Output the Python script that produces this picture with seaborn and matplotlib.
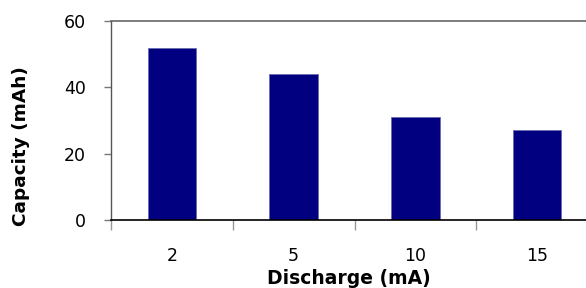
import matplotlib
matplotlib.use("Agg")
import matplotlib.pyplot as plt
import seaborn as sns
import pandas as pd

discharge = ["2", "5", "10", "15"]
capacity = [52, 44, 31, 27]

sns.set_theme(style="white")
plt.rcParams['font.family'] = ['DejaVu Sans']
plt.rcParams['text.color'] = 'black'

df = pd.DataFrame({"Discharge": discharge, "Capacity": capacity})

fig = plt.figure(figsize=(5.86, 2.88), dpi=100)
ax = fig.add_axes([111/586, 1 - 220/288, 487/586, 199/288])
sns.barplot(data=df, x="Discharge", y="Capacity", order=discharge, color="#000080",
            saturation=1, width=0.4, ax=ax, edgecolor="#6a6ab0", linewidth=0.6)

ax.set_xlim(-0.5, 3.5)
ax.set_ylim(0, 60)
ax.set_yticks([0, 20, 40, 60])
ax.set_yticklabels(["0", "20", "40", "60"], fontsize=12.5, family="DejaVu Sans")
ax.set_xticks([-0.5, 0.5, 1.5, 2.5])
ax.set_xticklabels([])
for i, lab in enumerate(discharge):
    ax.text(i, 0, lab, ha="center", va="center", fontsize=12.5, color="black",
            family="DejaVu Sans",
            transform=ax.get_xaxis_transform() + matplotlib.transforms.ScaledTranslation(0, -(256 - 220) / 100, fig.dpi_scale_trans))
ax.tick_params(axis="y", length=5, width=1, color="#777777", left=True, pad=13, labelcolor="black")
ax.tick_params(axis="x", length=7, width=1, color="#999999", bottom=True)

ax.spines["right"].set_visible(False)
ax.spines["top"].set_color("#666666")
ax.spines["top"].set_linewidth(1.2)
ax.spines["left"].set_color("#555555")
ax.spines["left"].set_linewidth(1)
ax.spines["bottom"].set_color("black")
ax.spines["bottom"].set_linewidth(1.2)

ax.set_xlabel("")
ax.set_ylabel("")
fig.text(21/586, 1 - 146/288, "Capacity (mAh)", rotation=90, ha="center", va="center",
         fontsize=13.3, fontweight="bold", family="DejaVu Sans", color="black")
fig.text(349/586, 1 - 283.5/288, "Discharge (mA)", ha="center", va="baseline",
         fontsize=13.5, fontweight="bold", family="DejaVu Sans", color="black")

fig.savefig("out.png", dpi=100)
